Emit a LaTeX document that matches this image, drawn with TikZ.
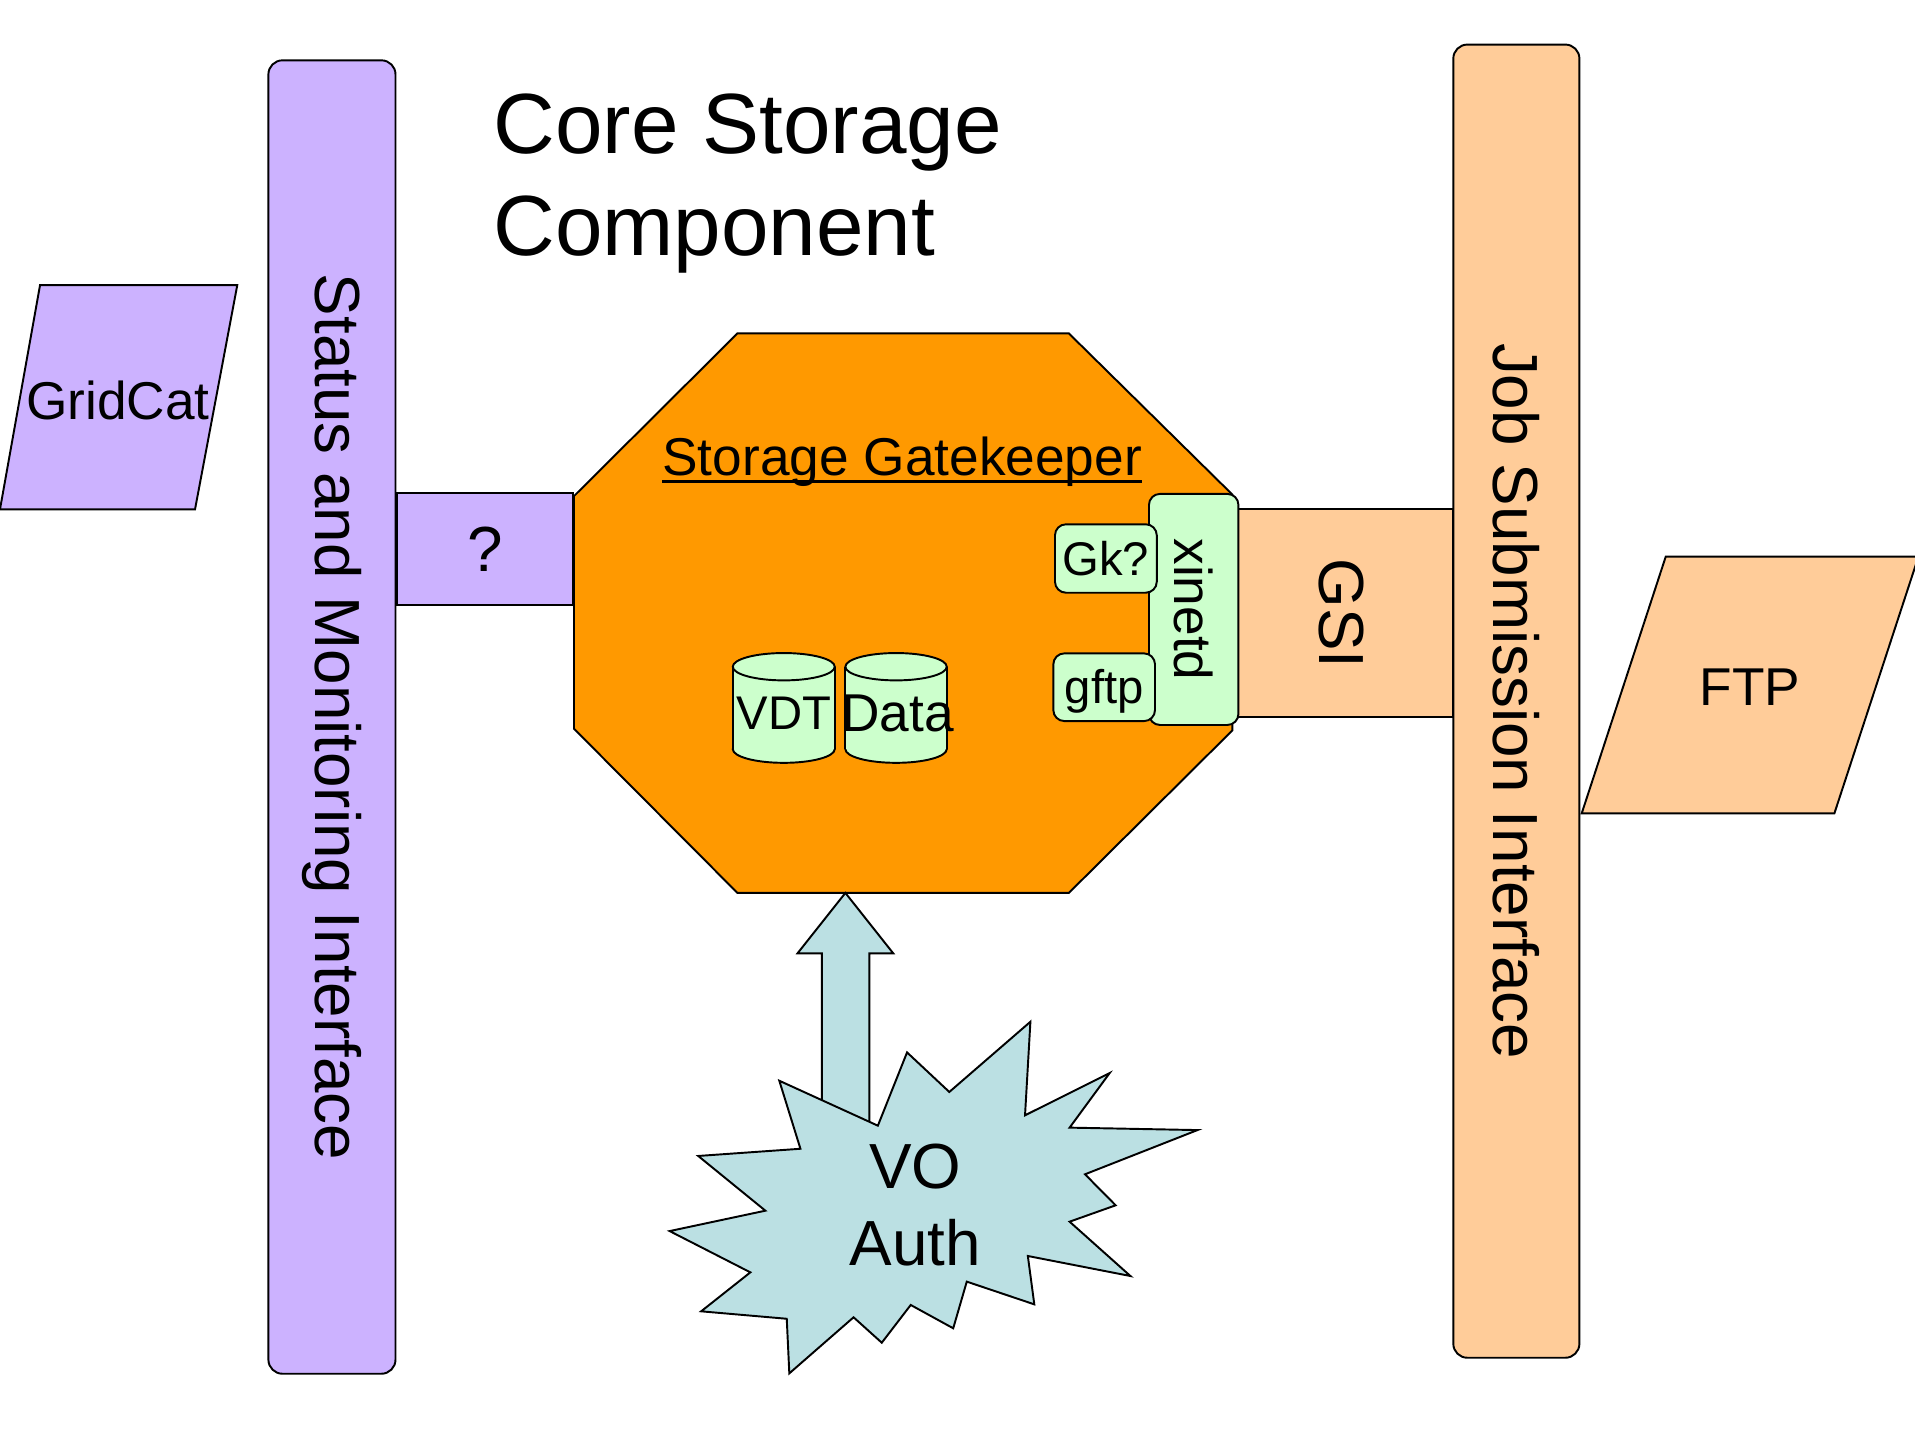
\documentclass[tikz,border=0pt]{standalone}
\usepackage{fontspec}
\setmainfont{Liberation Sans}
\definecolor{purp}{RGB}{204,178,255}
\definecolor{peach}{RGB}{255,204,153}
\definecolor{orng}{RGB}{255,153,0}
\definecolor{lgreen}{RGB}{204,255,204}
\definecolor{lblue}{RGB}{187,224,227}
\begin{document}
\begin{tikzpicture}[x=0.01cm,y=-0.01cm,line width=0.45pt,
  outl/.style={draw=black,line join=miter},
  titlefont/.style={font=\fontsize{19.9pt}{23.9pt}\selectfont},
  bigfont/.style={font=\fontsize{14.85pt}{17.8pt}\selectfont},
  medfont/.style={font=\fontsize{12.4pt}{14.9pt}\selectfont},
  smallfont/.style={font=\fontsize{11pt}{13.2pt}\selectfont},
  bar/.style={outl,rounded corners=1.15mm,inner sep=0pt,bigfont},
  plainbox/.style={outl,inner sep=0pt},
  greenbox/.style={outl,fill=lgreen,rounded corners=0.9mm,inner sep=0pt},
  txt/.style={inner sep=0pt,outer sep=0pt}]
\useasboundingbox (0,0) rectangle (1568,1175);

% side bars
\node[bar,fill=purp,rotate=-90,minimum width=10.748cm,minimum height=1.04cm] (status) at (271.8,587.1) {Status and Monitoring Interface};
\node[bar,fill=peach,rotate=-90,minimum width=10.746cm,minimum height=1.032cm] (job) at (1241.6,574.1) {Job Submission Interface};

% GridCat parallelogram
\path[outl,fill=purp] (32.8,233.4) -- (194.3,233.4) -- (159.7,417) -- (0,417) -- cycle;
\node[txt,medfont] (gridcat) at (96.5,328) {GridCat};

% FTP parallelogram
\path[outl,fill=peach] (1363.9,455.8) -- (1570.8,455.8) -- (1502,666) -- (1295.1,666) -- cycle;
\node[txt,medfont] (ftp) at (1433,562.3) {FTP};

% ? box and GSI box
\node[plainbox,fill=purp,minimum width=1.446cm,minimum height=0.914cm,bigfont] (q) at (397.1,449.7) {?};
\node[plainbox,fill=peach,rotate=-90,minimum width=1.703cm,minimum height=1.76cm,bigfont] (gsi) at (1102,502.2) {\raisebox{-0.35mm}[\height][\depth]{GSI}};

% octagon (storage gatekeeper)
\path[outl,fill=orng] (603.8,273) -- (875.2,273) -- (1009.1,405) -- (1009.1,598)
  -- (875.2,731.1) -- (603.8,731.1) -- (470,596.7) -- (470,406.2) -- cycle;
\coordinate (octbot) at (692.2,731.1);
\node[txt,medfont,anchor=base west] (sg) at (542.4,389) {Storage Gatekeeper};
\draw[line width=0.55pt] ([yshift=-1.5pt]sg.base west) -- ([yshift=-1.5pt]sg.base east);

% xinetd and services
\node[greenbox,rotate=-90,minimum width=1.891cm,minimum height=0.732cm,medfont] (xinetd) at (977.4,499) {xinetd};
\node[greenbox,minimum width=0.833cm,minimum height=0.56cm,smallfont] (gk) at (905.5,457.3) {Gk?};
\node[greenbox,minimum width=0.832cm,minimum height=0.554cm,smallfont] (gftp) at (904.1,562.7) {\raisebox{-0.3mm}[\height][\depth]{gftp}};

% cylinders
\foreach \xc/\rx in {641.75/41.75, 733.7/41.5}{
  \path[outl,fill=lgreen] (\xc,613.4) ellipse [x radius=\rx, y radius=11.2];
  \fill[lgreen] (\xc-\rx,545.9) rectangle (\xc+\rx,613.4);
  \draw (\xc-\rx,545.9) -- (\xc-\rx,613.4) (\xc+\rx,545.9) -- (\xc+\rx,613.4);
  \path[outl,fill=lgreen] (\xc,545.9) ellipse [x radius=\rx, y radius=11.2];
}
\node[txt,smallfont,anchor=base] (vdt) at (642,597.3) {VDT};
\node[txt,medfont,anchor=base] (data) at (735,599) {Data};

% block arrow from VO Auth to gatekeeper
\path[outl,fill=lblue] (octbot) -- (731.4,780.6) -- (711.8,780.6) -- (711.8,950)
  -- (672.9,950) -- (672.9,780.6) -- (653,780.6) -- cycle;

% VO Auth starburst
\path[outl,fill=lblue] (638.1,884.9) -- (718.8,921.7) -- (742.7,861.7) -- (777.3,894.1)
  -- (843.7,836.6) -- (839.3,913.2) -- (908.6,878.6) -- (875.8,923.3) -- (980.5,925.3)
  -- (888.4,961.5) -- (913.5,986.9) -- (875.8,1000.3) -- (925.6,1044.8) -- (841.6,1028.4)
  -- (846.9,1068) -- (791.6,1049.4) -- (780.5,1087.6) -- (745.7,1068.5) -- (722,1099.4)
  -- (698.9,1078.6) -- (646.3,1124.5) -- (644.2,1079.8) -- (574.1,1073.7) -- (614.4,1041.8)
  -- (548.3,1008) -- (626.7,991.3) -- (571.7,946.5) -- (655.4,940.6) -- cycle;
\node[txt,bigfont,anchor=base] (vo) at (749.5,973) {VO};
\node[txt,bigfont,anchor=base] (auth) at (749.5,1036.3) {Auth};

% title
\node[txt,titlefont,anchor=base west] (title1) at (404,126) {Core Storage};
\node[txt,titlefont,anchor=base west] (title2) at (404,209.5) {Component};
\end{tikzpicture}
\end{document}
